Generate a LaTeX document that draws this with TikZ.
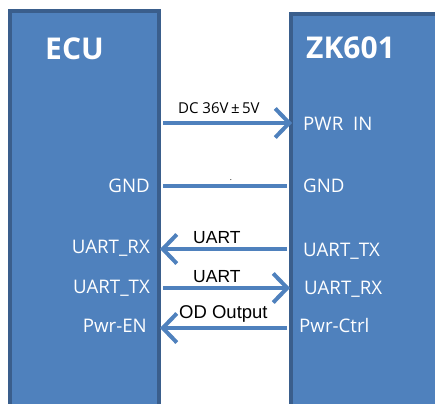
\documentclass[tikz,border=0pt]{standalone}
\usepackage{fontspec}
\setmainfont{Open Sans}
\newfontfamily\arrfont{Liberation Sans}
\usetikzlibrary{arrows.meta}
\definecolor{boxfill}{HTML}{4F81BD}
\definecolor{boxline}{HTML}{3A5E8C}
\tikzset{
  block/.style={draw=boxline, fill=boxfill, line width=4pt},
  pinl/.style={text=white, inner sep=0pt, font=\fontsize{18.7}{20}\selectfont},
  title/.style={text=white, inner sep=0pt, font=\fontsize{30}{32}\selectfont\bfseries},
  wirelabel/.style={text=black, inner sep=0pt, font=\arrfont\fontsize{17.5}{19}\selectfont},
  wire/.style={draw=boxfill, line width=4pt},
  sig/.style={wire, -{Straight Barb[length=14pt,width=29pt]}},
}
\begin{document}
\begin{tikzpicture}[x=1pt,y=-1pt]
\useasboundingbox (0,0) rectangle (435,403);
\clip (0,0) rectangle (435,403);
\fill[white] (0,0) rectangle (435,403);
% blocks
\path[block] (10,11) rectangle (159,420);
\path[block] (291,14) rectangle (450,420);
\node[title, anchor=base west] (ecut) at (45,60) {ECU};
\node[title, anchor=base west] (zkt) at (306,59) {ZK601};
% left pins
\node[pinl, anchor=base east] (lgnd) at (150,192) {GND};
\node[pinl, anchor=base east] (lrx) at (150,253) {UART\_RX};
\node[pinl, anchor=base east] (ltx) at (150,293) {UART\_TX};
\node[pinl, anchor=base east] (len) at (147,332) {Pwr-EN};
% right pins
\node[pinl, anchor=base west] (rpwr) at (303,131) {PWR\ \ IN};
\node[pinl, anchor=base west] (rgnd) at (303,192) {GND};
\node[pinl, anchor=base west] (rtx) at (303,256) {UART\_TX};
\node[pinl, anchor=base west] (rrx) at (304,294) {UART\_RX};
\node[pinl, anchor=base west] (rctl) at (299,332) {Pwr-Ctrl};
% wire end points
\coordinate (pwrA) at (163,123);
\coordinate (pwrB) at (292,123);
\coordinate (gndA) at (163,186);
\coordinate (gndB) at (287,186);
\coordinate (u1A) at (287,249);
\coordinate (u1B) at (160,249);
\coordinate (u2A) at (163,288);
\coordinate (u2B) at (290,288);
\coordinate (odA) at (287,328);
\coordinate (odB) at (160,328);
\draw[sig] (pwrA) -- (pwrB);
\draw[wire] (gndA) -- (gndB);
\draw[sig] (u1A) -- (u1B);
\draw[sig] (u2A) -- (u2B);
\draw[sig] (odA) -- (odB);
% wire labels
\node[text=black, inner sep=0pt, anchor=base west, font=\fontsize{15}{17}\selectfont] (dcl) at (178,114) {DC 36V\,±\,5V};
\node[wirelabel, anchor=base west] (u1l) at (193,243) {UART};
\node[wirelabel, anchor=base west] (u2l) at (193,282) {UART};
\node[wirelabel, anchor=base west, font=\arrfont\fontsize{18.5}{20}\selectfont] (odl) at (179,318) {OD Output};
\node[text=black, inner sep=0pt, font=\fontsize{8}{8}\selectfont] (dot) at (231,180) {.};
\end{tikzpicture}
\end{document}
